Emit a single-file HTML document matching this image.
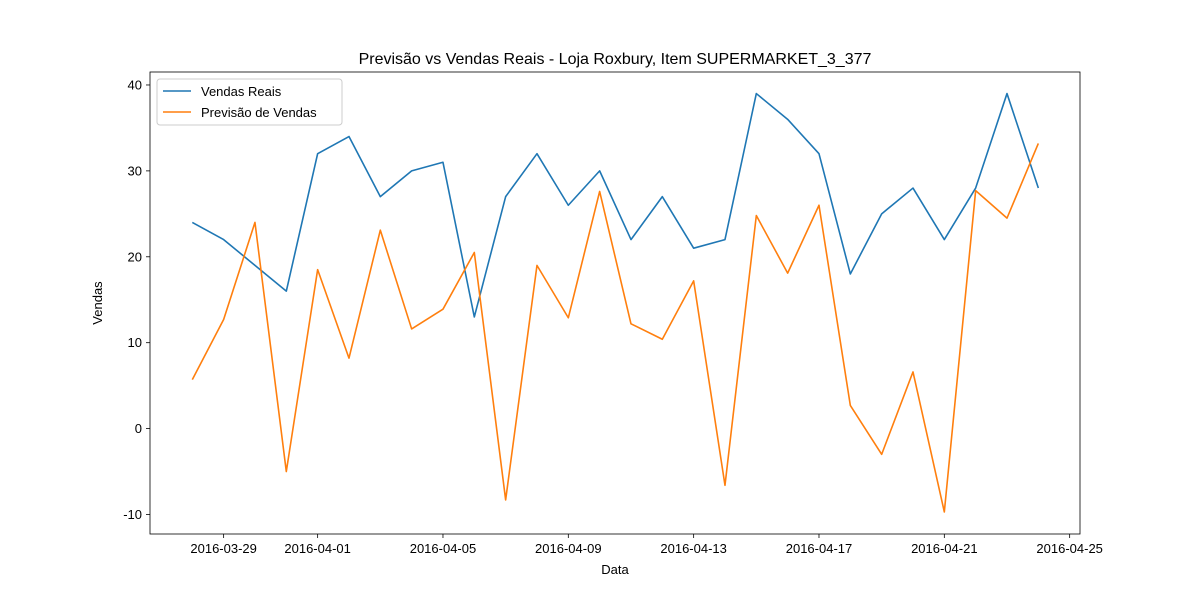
<!DOCTYPE html>
<html><head><meta charset="utf-8"><style>
html,body{margin:0;padding:0;background:#fff;}
svg{display:block;font-family:"Liberation Sans","DejaVu Sans",sans-serif;}
</style></head><body>
<svg id="chart" width="1200" height="600"></svg>
<script>
const startDate = "2016-03-28";
const actualSales = [24,22,19,16,32,34,27,30,31,13,27,32,26,30,22,27,21,22,39,36,32,18,25,28,22,28,39,28];
const forecastSales = [5.7,12.7,24,-5,18.5,8.2,23.1,11.6,13.9,20.5,-8.3,19,12.9,27.6,12.2,10.4,17.2,-6.6,24.8,18.1,26,2.7,-3,6.6,-9.7,27.7,24.5,33.2];
const xTickLabels = ["2016-03-29","2016-04-01","2016-04-05","2016-04-09","2016-04-13","2016-04-17","2016-04-21","2016-04-25"];
const yTicks = [-10,0,10,20,30,40];

const NS="http://www.w3.org/2000/svg";
const svg=document.getElementById('chart');
const L=150,R=1080,T=72,B=534;
const dayMs=86400000;
const t0=Date.parse(startDate+"T00:00:00Z");
const xMin=-1.35, xMax=28.33;
const yMin=-12.27, yMax=41.51;
function dayIndex(s){return (Date.parse(s+"T00:00:00Z")-t0)/dayMs;}
function x(d){return L+(d-xMin)/(xMax-xMin)*(R-L);}
function y(v){return B-(v-yMin)/(yMax-yMin)*(B-T);}
function mk(tag,attrs,parent){const e=document.createElementNS(NS,tag);for(const k in attrs)e.setAttribute(k,attrs[k]);(parent||svg).appendChild(e);return e;}

const frame=mk('rect',{x:L,y:T,width:R-L,height:B-T,fill:'none',stroke:'#000','stroke-width':0.8});



xTickLabels.forEach(lbl=>{
  const px=x(dayIndex(lbl));
  const tk=mk('line',{x1:px,x2:px,y1:B,y2:B+4,stroke:'#000','stroke-width':0.8});
  
  
  const t=mk('text',{x:px,y:B+19,'text-anchor':'middle','font-size':13});
  t.textContent=lbl;
  
  
});
yTicks.forEach(v=>{
  const py=y(v);
  const tk=mk('line',{x1:L-4,x2:L,y1:py,y2:py,stroke:'#000','stroke-width':0.8});
  
  
  const t=mk('text',{x:L-8,y:py+4.5,'text-anchor':'end','font-size':13});
  t.textContent=v;
  
  
});

function series(vals,color,name){
  const p=mk('polyline',{points:vals.map((v,i)=>x(i)+','+y(v)).join(' '),fill:'none',stroke:color,'stroke-width':1.6,'stroke-linejoin':'round'});
  
  
}
series(actualSales,'#1f77b4','actual-sales-line');
series(forecastSales,'#ff7f0e','forecast-sales-line');

const title=mk('text',{x:(L+R)/2,y:64,'text-anchor':'middle','font-size':16});
title.textContent="Previsão vs Vendas Reais - Loja Roxbury, Item SUPERMARKET_3_377";


const xt=mk('text',{x:(L+R)/2,y:574,'text-anchor':'middle','font-size':13});
xt.textContent="Data";


const yt=mk('text',{x:0,y:0,'text-anchor':'middle','font-size':13,transform:`translate(102,${(T+B)/2}) rotate(-90)`});
yt.textContent="Vendas";



const lg=mk('g',{});


mk('rect',{x:157,y:79,width:185,height:46,rx:3,fill:'#fff',stroke:'#ccc','stroke-width':1},lg);
[['Vendas Reais','#1f77b4',91],['Previsão de Vendas','#ff7f0e',112]].forEach(([lbl,c,py])=>{
  const ln=mk('line',{x1:163,x2:191,y1:py,y2:py,stroke:c,'stroke-width':1.6},lg);
  
  
  const t=mk('text',{x:201,y:py+5,'font-size':13},lg);
  t.textContent=lbl;
  
  
});
</script>
</body></html>
